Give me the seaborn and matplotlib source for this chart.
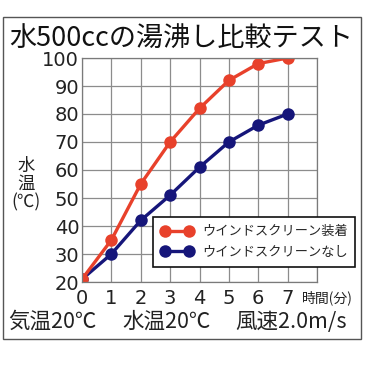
import numpy as np
import pandas as pd
import matplotlib
matplotlib.use("Agg")
import matplotlib.pyplot as plt
import matplotlib.patches as mpatches
import seaborn as sns

# Data
minutes = [0, 1, 2, 3, 4, 5, 6, 7]
temp_with_screen = [21, 35, 55, 70, 82, 92, 98, 100]
temp_without_screen = [21, 30, 42, 51, 61, 70, 76, 80]
label_with = "ウインドスクリーン装着"
label_without = "ウインドスクリーンなし"
y_ticks = [20, 30, 40, 50, 60, 70, 80, 90, 100]
title = "水500ccの湯沸し比較テスト"
footer = ["気温20℃", "水温20℃", "風速2.0m/s"]

RED = "#E8412B"
NAVY = "#16167A"

sns.set_theme(style="white")
plt.rcParams["font.family"] = ["Noto Sans CJK JP", "DejaVu Sans"]

df = pd.DataFrame({
    "分": minutes * 2,
    "水温": temp_with_screen + temp_without_screen,
    "条件": [label_with] * len(minutes) + [label_without] * len(minutes),
})

fig = plt.figure(figsize=(3.65, 3.65), dpi=100)
ax = fig.add_axes([82 / 365, 83 / 365, 235 / 365, 224 / 365])

line_kw = dict(marker="o", markersize=9, linewidth=2.4, markeredgewidth=0)
sns.lineplot(data=df[df["条件"] == label_without], x="分", y="水温",
             color=NAVY, label=label_without, ax=ax, **line_kw)
sns.lineplot(data=df[df["条件"] == label_with], x="分", y="水温",
             color=RED, label=label_with, ax=ax, **line_kw)

ax.set_xlim(0, 8)
ax.set_ylim(20, 100)
ax.set_xticks(np.arange(0, 9))
ax.set_xticklabels([str(m) for m in minutes] + [""])
ax.set_yticks(y_ticks)
ax.set_xlabel("")
ax.set_ylabel("")
ax.grid(True, color="#8c8c8c", linewidth=0.9)
for s in ax.spines.values():
    s.set_color("#7a7a7a")
    s.set_linewidth(0.9)
ax.tick_params(length=0, labelsize=14, colors="#222222")
ax.tick_params(axis="x", pad=5)
ax.tick_params(axis="y", pad=2)
for t in ax.get_xticklabels() + ax.get_yticklabels():
    t.set_fontfamily("DejaVu Sans")

handles, labels = ax.get_legend_handles_labels()
order = [labels.index(label_with), labels.index(label_without)]
leg = ax.legend([handles[i] for i in order], [labels[i] for i in order],
                numpoints=2, handlelength=2.4, fontsize=9.5,
                loc="lower left", bbox_to_anchor=(153 / 365, 98 / 365),
                bbox_transform=fig.transFigure, borderaxespad=0,
                fancybox=False, framealpha=1, edgecolor="#111111",
                borderpad=0.6, labelspacing=0.6, handletextpad=0.7)
leg.get_frame().set_linewidth(1.2)

fig.text(327 / 365, 1 - 298 / 365, "時間(分)", fontsize=10,
         ha="center", va="center", color="#222222")
fig.text(26 / 365, 1 - 184 / 365, "水\n温\n(℃)", fontsize=12.5,
         ha="center", va="center", linespacing=1.0, color="#222222")

fig.text(181 / 365, 1 - 38 / 365, title, fontsize=19.5,
         ha="center", va="center", color="#111111")

footer_x = [8, 122, 235]
for x, s in zip(footer_x, footer):
    fig.text(x / 365, 1 - 322 / 365, s, fontsize=15.5,
             ha="left", va="center", color="#222222")

fig.add_artist(mpatches.Rectangle((3 / 365, 26 / 365), 358 / 365, 322 / 365,
                                  transform=fig.transFigure, fill=False,
                                  edgecolor="#555555", linewidth=1.0))

fig.savefig("out.png", dpi=100)
